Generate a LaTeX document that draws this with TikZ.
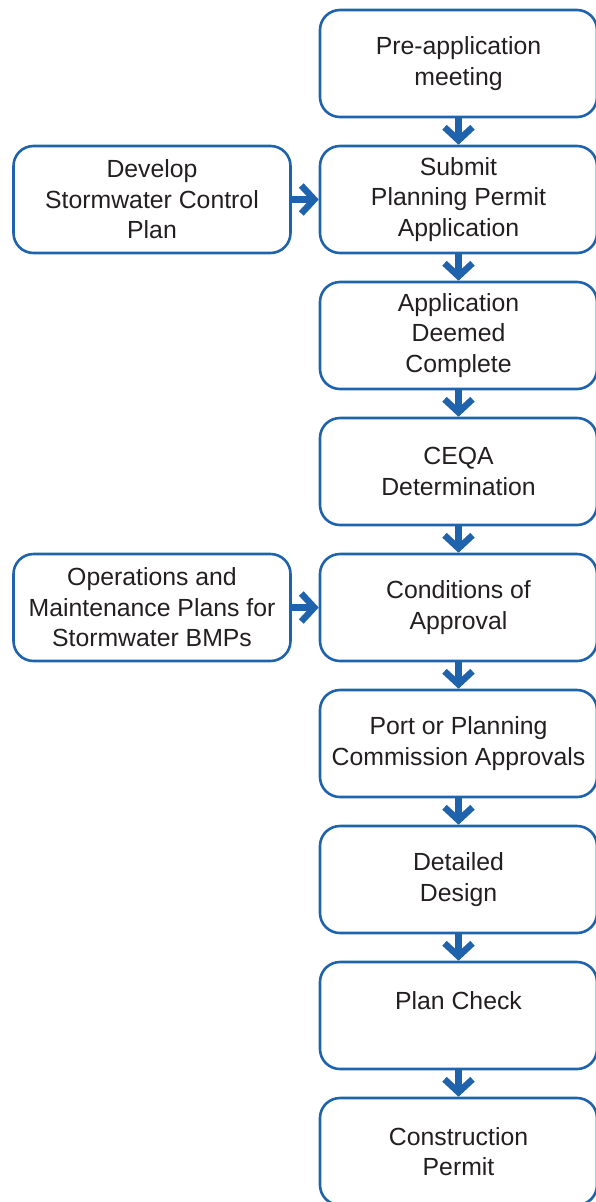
\documentclass[tikz,border=0pt]{standalone}
\usepackage{fontspec}
\setmainfont{Liberation Sans}
\usetikzlibrary{arrows.meta}
\definecolor{flowblue}{HTML}{1F63AD}
\definecolor{flowtext}{HTML}{231F20}
\tikzset{
  stage/.style={draw=flowblue, line width=2.6pt, rounded corners=20pt,
    minimum width=277pt, minimum height=107pt, inner sep=0pt,
    align=center, text=flowtext,
    font=\fontsize{24.8pt}{30.5pt}\selectfont},
  flow/.style={draw=flowblue, line width=6.5pt,
    -{Straight Barb[length=13pt, width=28pt, line width=6.5pt]}},
}
\begin{document}
\begin{tikzpicture}[x=1pt, y=-1pt]
\useasboundingbox (0,0) rectangle (595,1202);
% main sequence of the approval process
\node[stage] (pre)   at (458.5, 63.5)  {Pre-application\\meeting};
\node[stage] (sub)   at (458.5, 199.5) {Submit\\Planning Permit\\Application};
\node[stage] (comp)  at (458.5, 335.5) {Application\\Deemed\\Complete};
\node[stage] (ceqa)  at (458.5, 471.5) {CEQA\\Determination};
\node[stage] (coa)   at (458.5, 607.5) {Conditions of\\Approval};
\node[stage] (port)  at (458.5, 743.5) {Port or Planning\\Commission Approvals};
\node[stage] (dd)    at (458.5, 879.5) {Detailed\\Design};
\node[stage] (check) at (458.5, 1015.5) {Plan Check\\\mbox{}};
\node[stage] (cons)  at (458.5, 1151.5) {Construction\\Permit};
% side inputs
\node[stage] (scp)   at (152, 199.5) {Develop\\Stormwater Control\\Plan};
\node[stage] (om)    at (152, 607.5) {Operations and\\Maintenance Plans for\\Stormwater BMPs};
% connectors
\foreach \a/\b in {pre/sub, sub/comp, comp/ceqa, ceqa/coa, coa/port, port/dd, dd/check, check/cons}
  \draw[flow] (\a.south) -- (\b.north);
\draw[flow] (scp.east) -- (sub.west);
\draw[flow] (om.east) -- (coa.west);
\end{tikzpicture}
\end{document}
